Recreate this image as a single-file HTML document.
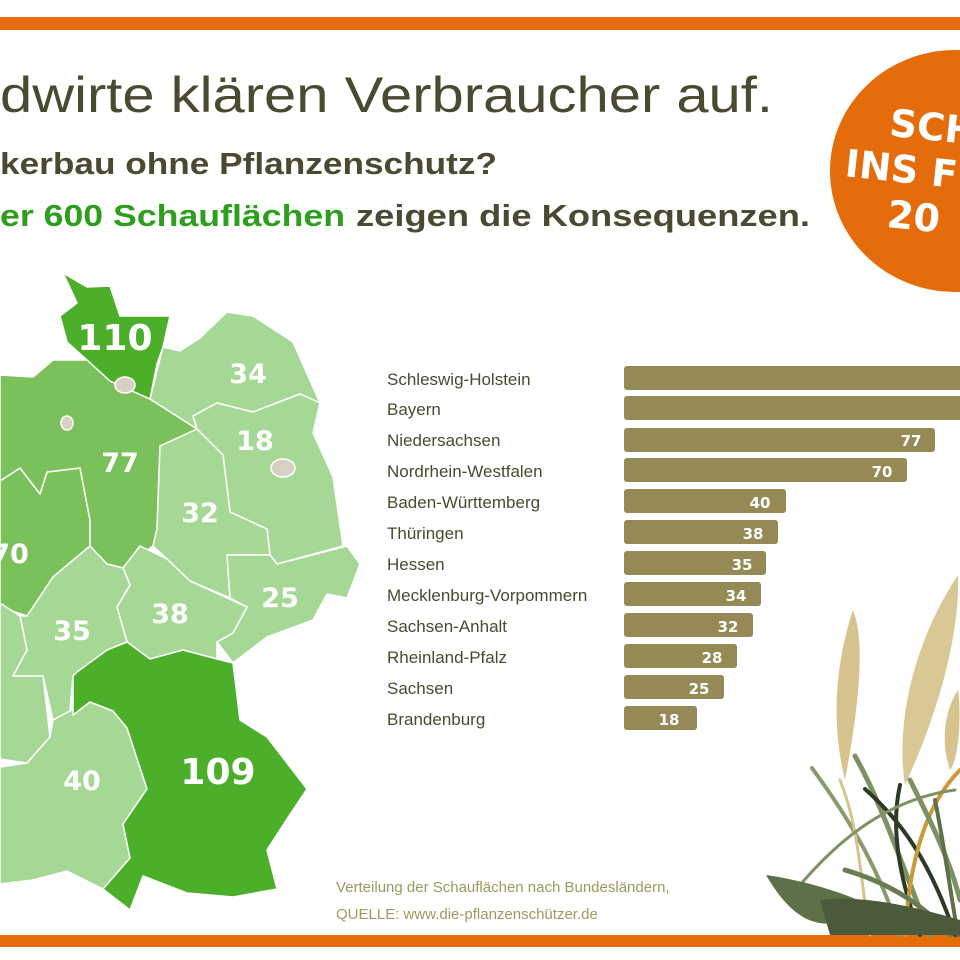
<!DOCTYPE html>
<html><head><meta charset="utf-8"><style>
html,body{margin:0;padding:0;background:#fff;}
svg{display:block;}
</style></head><body>
<svg width="960" height="960" viewBox="0 0 960 960" xmlns="http://www.w3.org/2000/svg" font-family="Liberation Sans, sans-serif">
<rect width="960" height="960" fill="#fff"/>
<rect x="0" y="17" width="960" height="13" fill="#e46c0a"/>
<rect x="0" y="935" width="960" height="12" fill="#e46c0a"/>

<text x="0" y="112" font-size="50" fill="#4a4a30" textLength="773" lengthAdjust="spacingAndGlyphs">dwirte klären Verbraucher auf.</text>
<text x="0" y="174" font-size="31" font-weight="bold" fill="#4a4a30" textLength="497" lengthAdjust="spacingAndGlyphs">kerbau ohne Pflanzenschutz?</text>
<text x="0" y="226" font-size="31" font-weight="bold" fill="#2e9e1e" textLength="345" lengthAdjust="spacingAndGlyphs">er 600 Schauflächen</text>
<text x="356" y="226" font-size="31" font-weight="bold" fill="#4a4a30" textLength="454" lengthAdjust="spacingAndGlyphs">zeigen die Konsequenzen.</text>

<ellipse cx="955" cy="171" rx="125" ry="121" fill="#e46c0a"/>
<g fill="#fff" font-weight="bold" font-size="38" font-family="DejaVu Sans, sans-serif" transform="rotate(6 900 170)">
<text x="885" y="137">SCH</text>
<text x="845" y="182">INS F</text>
<text x="892" y="228">20</text>
</g>

<g stroke="#fff" stroke-width="1.5" stroke-linejoin="round">
<polygon fill="#7bc15b" points="0,481 20,468 40,494 47,472 80,468 90,520 90,546 53,577 27,616 0,607"/>
<polygon fill="#7bc15b" points="0,375 33,377 53,360 87,360 110,381 150,399 197,429 160,446 157,529 153,546 123,568 107,564 90,546 90,520 80,468 47,472 40,494 20,468 0,481"/>
<polygon fill="#4caf2a" points="63,273 87,287 110,286 120,316 170,316 163,347 157,364 150,399 110,381 87,360 67,342 60,316 77,303"/>
<polygon fill="#a6d895" points="150,399 163,347 180,351 200,338 227,312 253,316 293,342 320,403 300,394 253,412 217,403 193,416 197,429"/>
<polygon fill="#a6d895" points="197,429 193,416 217,403 253,412 300,394 320,403 313,433 333,477 343,546 277,564 270,555 267,529 230,512 223,455"/>
<polygon fill="#a6d895" points="160,446 197,429 223,455 230,512 267,529 270,555 227,555 230,598 190,581 167,559 153,546 157,529"/>
<polygon fill="#a6d895" points="227,555 270,555 277,564 347,546 360,564 347,598 327,594 313,620 267,637 233,663 217,642 233,633 247,607 230,598"/>
<polygon fill="#a6d895" points="123,568 140,546 167,559 190,581 227,598 247,607 233,633 217,642 217,659 183,650 150,659 127,642 117,607 130,585"/>
<polygon fill="#a6d895" points="90,546 107,564 123,568 130,585 117,607 127,642 107,650 73,676 70,711 53,720 43,676 13,676 27,650 20,616 27,616 53,577"/>
<polygon fill="#a6d895" points="0,603 20,616 27,650 13,676 43,676 50,737 27,763 0,759"/>
<polygon fill="#a6d895" points="50,737 53,720 70,711 90,702 113,711 127,728 147,789 123,824 130,858 103,889 67,871 33,880 0,884 0,767 27,763"/>
<polygon fill="#4caf2a" points="73,676 77,672 107,650 127,642 150,659 183,650 217,659 233,663 240,720 267,737 307,789 287,819 267,850 277,889 233,897 187,893 143,876 130,910 103,889 130,858 123,824 147,789 127,728 113,711 90,702 73,715"/>
<ellipse cx="125" cy="385" rx="10" ry="8" fill="#d6d1c2"/>
<ellipse cx="67" cy="423" rx="6" ry="7" fill="#d6d1c2"/>
<ellipse cx="283" cy="468" rx="12" ry="9" fill="#d6d1c2"/>
</g>
<g fill="#fff" font-weight="bold" font-family="DejaVu Sans, sans-serif" text-anchor="middle">
<text x="115" y="350" font-size="36">110</text>
<text x="218" y="784" font-size="36">109</text>
<text x="248" y="383" font-size="27">34</text>
<text x="255" y="450" font-size="27">18</text>
<text x="120" y="472" font-size="27">77</text>
<text x="200" y="522" font-size="27">32</text>
<text x="10" y="563" font-size="27">70</text>
<text x="72" y="640" font-size="27">35</text>
<text x="170" y="623" font-size="27">38</text>
<text x="280" y="607" font-size="27">25</text>
<text x="82" y="790" font-size="27">40</text>
</g>

<g>
<path d="M853,610 C865,640 860,700 845,780 C835,740 830,680 853,610Z" fill="#d6c38e"/>
<path d="M958,575 C960,640 935,720 905,785 C895,720 915,640 958,575Z" fill="#d9c795"/>
<path d="M958,690 C962,720 958,760 950,770 C940,740 945,710 958,690Z" fill="#d6c38e"/>
<g fill="none" stroke-linecap="round">
<path d="M812,768 C850,820 880,870 900,935" stroke="#8a9a6a" stroke-width="4"/>
<path d="M855,756 C880,800 900,860 930,935" stroke="#7d9263" stroke-width="5"/>
<path d="M840,780 C860,830 860,880 870,935" stroke="#d6c38e" stroke-width="3"/>
<path d="M865,789 C900,820 930,860 955,935" stroke="#2d3a25" stroke-width="4"/>
<path d="M900,785 C890,830 900,880 920,935" stroke="#2d3a25" stroke-width="4"/>
<path d="M960,770 C930,800 910,850 905,935" stroke="#c79a3a" stroke-width="4"/>
<path d="M800,885 C830,850 880,800 955,790" stroke="#7d9263" stroke-width="3"/>
<path d="M910,780 C930,820 950,860 960,900" stroke="#7d9263" stroke-width="5"/>
<path d="M845,870 C880,880 920,900 950,935" stroke="#6a7d52" stroke-width="5"/>
<path d="M935,800 C945,850 950,890 958,935" stroke="#5e7048" stroke-width="4"/>
</g>
<path d="M766,875 C800,880 840,890 880,910 C860,925 820,930 800,915 C785,905 775,890 766,875Z" fill="#5e7048"/>
<path d="M820,900 C860,895 910,905 960,920 L960,935 L830,935Z" fill="#4a5a3a"/>
</g>

<g font-size="17" fill="#4a4a30">
<text x="387" y="385">Schleswig-Holstein</text>
<text x="387" y="415">Bayern</text>
<text x="387" y="446">Niedersachsen</text>
<text x="387" y="477">Nordrhein-Westfalen</text>
<text x="387" y="508">Baden-Württemberg</text>
<text x="387" y="539">Thüringen</text>
<text x="387" y="570">Hessen</text>
<text x="387" y="601">Mecklenburg-Vorpommern</text>
<text x="387" y="632">Sachsen-Anhalt</text>
<text x="387" y="663">Rheinland-Pfalz</text>
<text x="387" y="694">Sachsen</text>
<text x="387" y="725">Brandenburg</text>
</g>
<g fill="#958a55">
<rect x="624" y="366" width="345" height="24" rx="3"/>
<rect x="624" y="396" width="345" height="24" rx="3"/>
<rect x="624" y="428" width="311" height="24" rx="3"/>
<rect x="624" y="458" width="283" height="24" rx="3"/>
<rect x="624" y="489" width="162" height="24" rx="3"/>
<rect x="624" y="520" width="154" height="24" rx="3"/>
<rect x="624" y="551" width="142" height="24" rx="3"/>
<rect x="624" y="582" width="137" height="24" rx="3"/>
<rect x="624" y="613" width="129" height="24" rx="3"/>
<rect x="624" y="644" width="113" height="24" rx="3"/>
<rect x="624" y="675" width="100" height="24" rx="3"/>
<rect x="624" y="706" width="73" height="24" rx="3"/>
</g>
<g fill="#fff" font-weight="bold" font-size="15" font-family="DejaVu Sans, sans-serif" text-anchor="middle">
<text x="911" y="446">77</text>
<text x="882" y="477">70</text>
<text x="760" y="508">40</text>
<text x="753" y="539">38</text>
<text x="742" y="570">35</text>
<text x="736" y="601">34</text>
<text x="728" y="632">32</text>
<text x="712" y="663">28</text>
<text x="699" y="694">25</text>
<text x="669" y="725">18</text>
</g>

<g font-size="15" fill="#9a9a60">
<text x="336" y="892">Verteilung der Schauflächen nach Bundesländern,</text>
<text x="336" y="919">QUELLE: www.die-pflanzenschützer.de</text>
</g>
</svg>
</body></html>
